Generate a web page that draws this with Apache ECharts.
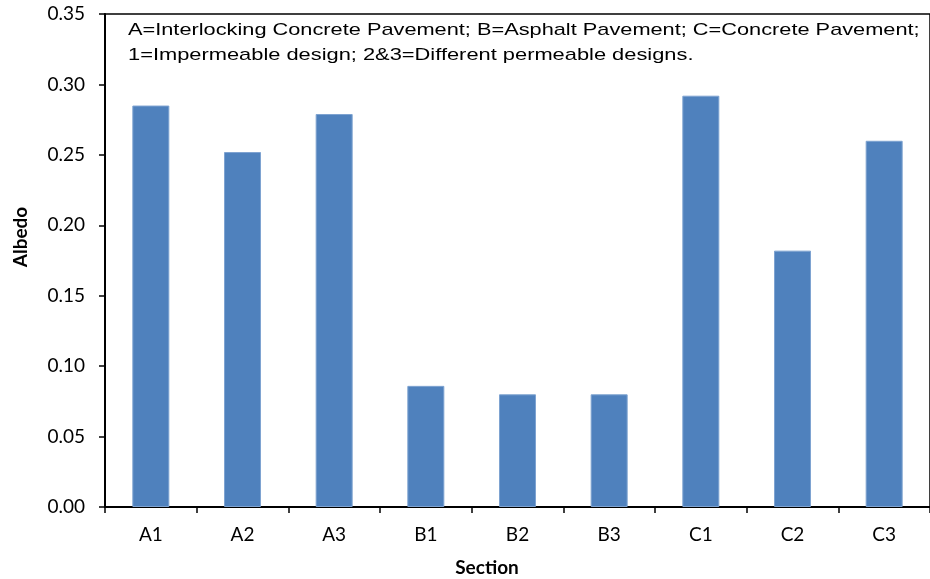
<!DOCTYPE html>
<html>
<head>
<meta charset="utf-8">
<script src="https://cdn.jsdelivr.net/npm/echarts@6/dist/echarts.min.js"></script>
<style>html,body{margin:0;padding:0;background:#fff}#c{width:930px;height:579px}</style>
</head>
<body>
<div id="c"></div>
<script>
const categories = ['A1','A2','A3','B1','B2','B3','C1','C2','C3'];
const albedo = [0.285, 0.252, 0.279, 0.086, 0.080, 0.080, 0.292, 0.182, 0.260];
const yTicks = {min: 0, max: 0.35, interval: 0.05};
const noteLine1 = 'A=Interlocking Concrete Pavement; B=Asphalt Pavement; C=Concrete Pavement;';
const noteLine2 = '1=Impermeable design; 2&3=Different permeable designs.';

const chart = echarts.init(document.getElementById('c'), null, {renderer:'canvas'});
const labelFont = 'Lato, "Open Sans", sans-serif';
const noteStyle = {fontFamily:'"Liberation Sans", Arial, sans-serif', fontSize:17, fill:'#000', verticalAlign:'middle'};
const graphics = [
  {type:'text', x:128, y:30, scaleX:1.28, style:Object.assign({text:noteLine1}, noteStyle)},
  {type:'text', x:128, y:55, scaleX:1.285, style:Object.assign({text:noteLine2}, noteStyle)},
  {type:'text', x:487, y:568, style:{text:'Section', fontFamily:labelFont, fontSize:19, fontWeight:'bold', fill:'#000', align:'center', verticalAlign:'middle'}},
  {type:'text', x:21, y:237, rotation:Math.PI/2, style:{text:'Albedo', fontFamily:labelFont, fontSize:19, fontWeight:'bold', fill:'#000', align:'center', verticalAlign:'middle'}}
];

chart.setOption({
  animation:false,
  grid:{left:105, top:14, width:832, height:493, show:true, borderColor:'#000', borderWidth:1.5, backgroundColor:'transparent'},
  xAxis:{type:'category', data:categories,
    axisLine:{lineStyle:{color:'#000', width:2}},
    axisTick:{show:true, inside:false, length:6, lineStyle:{color:'#000', width:1.5}},
    axisLabel:{color:'#000', fontFamily:labelFont, fontSize:19, margin:18}},
  yAxis:{type:'value', min:yTicks.min, max:yTicks.max, interval:yTicks.interval,
    axisLine:{show:true, lineStyle:{color:'#000', width:2}},
    axisTick:{show:true, length:6, lineStyle:{color:'#000', width:1.5}},
    splitLine:{show:false},
    axisLabel:{color:'#000', fontFamily:labelFont, fontSize:19, margin:20, formatter:v=>v.toFixed(2)}},
  series:[{type:'bar', data:albedo, barWidth:37,
    itemStyle:{color:'#4F81BD', borderColor:'#7EA3D1', borderWidth:1}}],
  graphic:graphics
});
</script>
</body>
</html>
